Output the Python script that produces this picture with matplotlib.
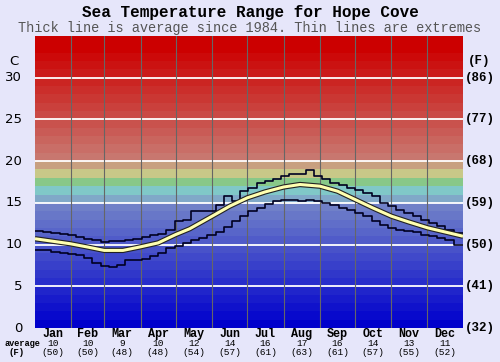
import matplotlib
matplotlib.use('Agg')
import matplotlib.pyplot as plt
import numpy as np

# Datos
months = ['Jan', 'Feb', 'Mar', 'Apr', 'May', 'Jun', 'Jul', 'Aug', 'Sep', 'Oct', 'Nov', 'Dec']
month_start = [0, 31, 59, 90, 120, 151, 181, 212, 243, 273, 304, 334, 365]
avg_c = [10, 10, 9, 10, 12, 14, 16, 17, 16, 14, 13, 11]
avg_f = [50, 50, 48, 48, 54, 57, 61, 63, 61, 57, 55, 52]

# semanas (dia 0, 7, 14, ...)
week_day = np.arange(52) * 7
t_max = [11.6, 11.5, 11.4, 11.3, 11.1, 10.9, 10.7, 10.5, 10.3, 10.4, 10.4, 10.5, 10.7,
         10.9, 11.1, 11.3, 11.8, 12.8, 13.0, 14.0, 14.0, 14.0, 14.8, 15.8, 15.2, 16.4,
         16.8, 17.4, 17.6, 17.8, 18.2, 18.5, 18.5, 18.9, 18.2, 17.8, 17.4, 17.2, 16.8,
         16.6, 16.2, 15.8, 15.0, 14.6, 14.2, 13.8, 13.4, 13.0, 12.6, 12.2, 11.8, 11.4]
t_min = [9.4, 9.3, 9.1, 9.0, 8.9, 8.7, 8.4, 7.8, 7.4, 7.3, 7.6, 8.2, 8.2,
         8.3, 8.6, 9.0, 9.6, 9.8, 10.2, 10.6, 10.8, 11.2, 11.5, 12.1, 12.8, 13.4,
         14.0, 14.4, 14.9, 15.2, 15.4, 15.4, 15.2, 15.4, 15.2, 15.0, 14.8, 14.4, 14.2,
         13.8, 13.4, 12.8, 12.4, 12.0, 11.8, 11.6, 11.5, 11.2, 11.0, 10.8, 10.6, 10.0]

# media
avg_day = [0, 15, 30, 45, 59, 75, 89, 105, 120, 132, 151, 166, 181, 196, 212, 226,
           243, 258, 273, 288, 304, 319, 335, 350, 365]
avg_t = [10.7, 10.4, 10.1, 9.7, 9.3, 9.3, 9.7, 10.2, 11.2, 11.9, 13.4, 14.6, 15.6, 16.3,
         16.9, 17.2, 17.0, 16.4, 15.4, 14.4, 13.4, 12.7, 12.0, 11.5, 11.0]

bg = '#e6e6fa'
fig = plt.figure(figsize=(5, 3.62), dpi=100, facecolor=bg)
ax = fig.add_axes([35 / 500, 34 / 362, 428 / 500, 292 / 362])
ax.set_xlim(0, 365)
ax.set_ylim(0, 35)
ax.axis('off')

# bandas de color (1 grado cada una)
def mix(a, b, f):
    return tuple((a[i] + (b[i] - a[i]) * f) / 255 for i in range(3))

for t in range(35):
    if t >= 33:
        c = (204 / 255, 0, 0)
    elif t >= 20:
        c = mix((200, 128, 120), (204, 0, 0), (t - 19) / 14)
    elif t == 19:
        c = (200 / 255, 160 / 255, 128 / 255)
    elif t == 18:
        c = (200 / 255, 200 / 255, 136 / 255)
    elif t == 17:
        c = (136 / 255, 200 / 255, 136 / 255)
    elif t == 16:
        c = (128 / 255, 200 / 255, 200 / 255)
    elif t == 15:
        c = (128 / 255, 168 / 255, 200 / 255)
    else:
        c = mix((0, 0, 204), (112, 128, 200), t / 14)
    ax.axhspan(t, t + 1, color=c, lw=0)

for t in range(5, 35, 5):
    ax.axhline(t, color='white', lw=1.3)
for d in month_start[1:-1]:
    ax.axvline(d, color='#666666', lw=0.8)

# lineas
x_step = list(week_day) + [365]
ax.plot(x_step, t_max + [t_max[-1]], drawstyle='steps-post', color='#000022', lw=1.2)
ax.plot(x_step, t_min + [t_min[-1]], drawstyle='steps-post', color='#000022', lw=1.2)
ax.plot(avg_day, avg_t, color='#222222', lw=3.8, solid_capstyle='butt')
ax.plot(avg_day, avg_t, color='#ffffb0', lw=2.2, solid_capstyle='butt')

# titulos
fig.text(0.5, 1 - 12 / 362, 'Sea Temperature Range for Hope Cove', ha='center', va='center',
         family='Liberation Mono', weight='bold', fontsize=11.5)
fig.text(0.5, 1 - 28 / 362, 'Thick line is average since 1984. Thin lines are extremes',
         ha='center', va='center', family='Liberation Mono', fontsize=9.8, color='#555555')

# ejes
ty = ax.get_yaxis_transform()
for t in range(0, 35, 5):
    ax.text(-0.03, t, str(t), transform=ty, ha='right', va='center', fontsize=9.5)
    ax.text(1.005, t, '(%d)' % round(t * 9 / 5 + 32), transform=ty, ha='left', va='center',
            family='Liberation Mono', weight='bold', fontsize=9)
ax.text(-0.05, 32, 'C', transform=ty, ha='center', va='center', fontsize=9.5)
ax.text(1.037, 32, '(F)', transform=ty, ha='center', va='center',
        family='Liberation Mono', weight='bold', fontsize=9)

tx = ax.get_xaxis_transform()
for i, m in enumerate(months):
    mid = (month_start[i] + month_start[i + 1]) / 2
    ax.text(mid, -6 / 292, m, transform=tx, ha='center', va='center',
            family='Liberation Mono', weight='bold', fontsize=8.5)
    ax.text(mid, -15.5 / 292, str(avg_c[i]), transform=tx, ha='center', va='center',
            family='Liberation Mono', fontsize=6.8)
    ax.text(mid, -24.5 / 292, '(%d)' % avg_f[i], transform=tx, ha='center', va='center',
            family='Liberation Mono', fontsize=6.8)
fig.text(22 / 500, 1 - 343 / 362, 'average', ha='center', va='center',
         family='Liberation Mono', weight='bold', fontsize=6.2)
fig.text(17 / 500, 1 - 352.5 / 362, '(F)', ha='center', va='center',
         family='Liberation Mono', weight='bold', fontsize=6.5)

plt.savefig('out.png', dpi=100, facecolor=bg)
